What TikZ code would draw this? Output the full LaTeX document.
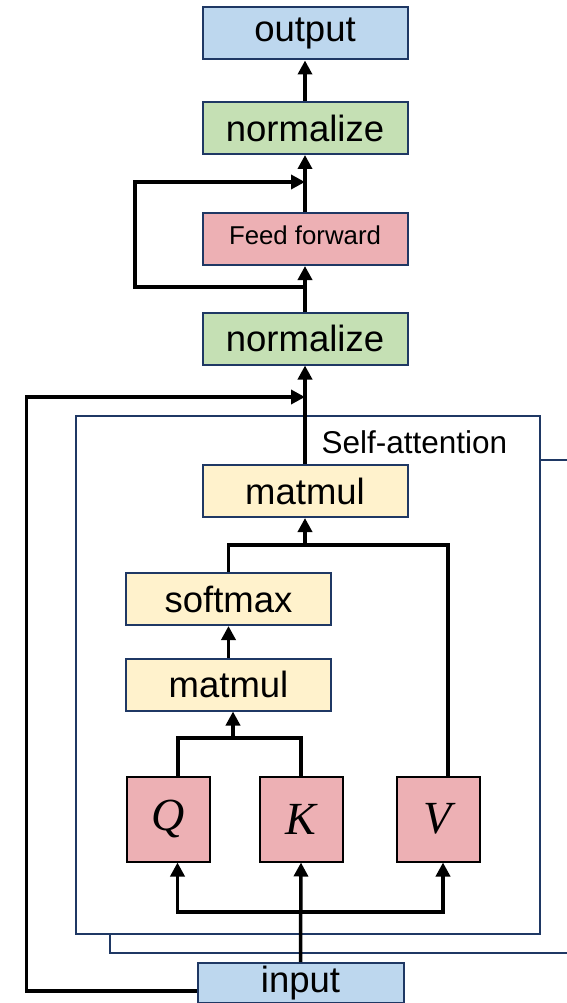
\documentclass[tikz,border=0pt]{standalone}
\usepackage{fontspec}
\setmainfont{Liberation Sans}
\newfontfamily\qkvfont{Liberation Serif}
\usepackage{tikz}
\usetikzlibrary{arrows.meta}
\definecolor{mblue}{HTML}{BDD7EE}
\definecolor{mgreen}{HTML}{C5E0B4}
\definecolor{mpink}{HTML}{EDB0B4}
\definecolor{myellow}{HTML}{FFF2CC}
\definecolor{mnavy}{HTML}{1F3864}
\tikzset{blk/.style = {draw = mnavy, line width = 2, inner sep = 0, minimum width = 205, minimum height = 52, font = \fontsize{36.5}{40}\selectfont}}
\tikzset{qkv/.style = {draw = black, fill = mpink, line width = 2, inner sep = 0, minimum width = 83, minimum height = 85, font = \qkvfont\itshape\fontsize{46}{50}\selectfont}}
\tikzset{attbox/.style = {draw = mnavy, fill = white, line width = 2}}
\tikzset{wire/.style = {line width = 3.5}}
\tikzset{flow/.style = {wire, -{Triangle[length = 14, width = 14]}}}

\begin{document}
\begin{tikzpicture}[x = 1pt, y = -1pt]
      \useasboundingbox (0, 0) rectangle (567, 1003);

      \draw [attbox] (110, 460) rectangle (590, 953);
      \draw [attbox] (76, 416) rectangle (540, 934);
      \node (satt) [anchor = west, font = \fontsize{31.5}{34}\selectfont] at (318, 442) {Self-attention};

      \node (output) [blk, fill = mblue] at (305, 33.5) {output};
      \node (norm2) [blk, fill = mgreen] at (305, 128) {normalize};
      \node (ff) [blk, fill = mpink, font = \fontsize{25.8}{28}\selectfont] at (305, 239) {\raisebox{8pt}{Feed forward}};
      \node (norm1) [blk, fill = mgreen] at (305, 338.5) {normalize};
      \node (mm2) [blk, fill = myellow] at (305, 491) {\raisebox{-3pt}{matmul}};
      \node (softmax) [blk, fill = myellow] at (228.5, 599) {softmax};
      \node (mm1) [blk, fill = myellow] at (228.5, 684.5) {matmul};
      \node (Q) [qkv] at (168.5, 819) {Q};
      \node (K) [qkv] at (301, 819) {K};
      \node (V) [qkv] at (438, 819) {V};
      \node (input) [blk, fill = mblue, minimum width = 206, minimum height = 40] at (300.5, 983) {\raisebox{-2pt}{input}};

      \coordinate (skipa) at (305, 287);
      \coordinate (skipb) at (305, 182);
      \coordinate (skipc) at (305, 397);
      \coordinate (jtop) at (305, 545);
      \coordinate (jlow) at (233, 738);
      \coordinate (jin) at (300.5, 912);

      \draw [flow] (norm2.north) -- (output.south);
      \draw [flow] (ff.north) -- (norm2.south);
      \draw [flow] (norm1.north) -- (ff.south);
      \draw [flow] (skipa) -- ++(-170, 0) |- (skipb);
      \draw [flow] (mm2.north) -- (norm1.south);
      \draw [flow] ([yshift = -8]input.west) -- ++(-170, 0) |- (skipc);

      \draw [wire] (softmax.north) |- (jtop) -| ([xshift = 10]V.north);
      \draw [flow] (jtop) -- (mm2.south);
      \draw [flow] (mm1.north) -- (softmax.south);
      \draw [wire] ([xshift = 9.5]Q.north) |- (jlow) -| (K.north);
      \draw [flow] (jlow) -- (jlow |- mm1.south);

      \draw [flow] (input.north) -- (K.south);
      \draw [flow] (jin) -| ([xshift = 9]Q.south);
      \draw [flow] (jin) -| ([xshift = 5]V.south);
\end{tikzpicture}
\end{document}
